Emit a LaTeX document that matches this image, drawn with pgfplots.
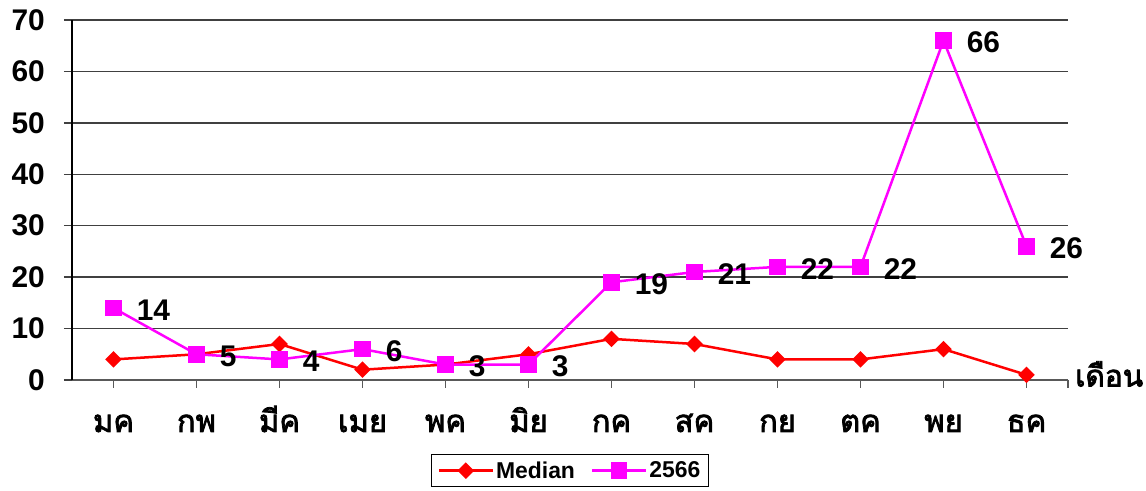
\documentclass[border=0pt]{standalone}
\usepackage{pgfplots}
\pgfplotsset{compat=1.18}
\usepackage{fontspec}
\setmainfont{Liberation Sans}
\newfontfamily\thaifont[Script=Thai, FakeBold=2.5]{Loma}
\definecolor{medred}{HTML}{FF0000}
\definecolor{mag}{HTML}{FF00FF}

\begin{document}
\begin{tikzpicture}
\begin{axis}[
  name=ax,
  scale only axis,
  width=996bp, height=360bp,
  xmin=-0.5, xmax=11.5, ymin=0, ymax=70,
  xtick={0,...,11},
  xticklabels={มค,กพ,มีค,เมย,พค,มิย,กค,สค,กย,ตค,พย,ธค},
  extra x ticks={11.5}, extra x tick labels={},
  ytick={0,10,...,70},
  axis x line=bottom, axis y line=left,
  axis line style={-},
  x axis line style={draw=black!65, line width=1.3bp},
  y axis line style={draw=black, line width=1.3bp},
  ymajorgrids,
  grid style={draw=black!75, line width=1.3bp},
  tick align=outside,
  ytick style={draw=black!75, line width=1.3bp},
  xtick style={draw=black!65, line width=1.3bp},
  major tick length=8bp,
  yticklabel style={font=\bfseries\fontsize{30}{30}\selectfont, anchor=east, inner sep=0pt, xshift=-19bp},
  xticklabel style={font=\thaifont\fontsize{31}{31}\selectfont, anchor=base, inner sep=0pt, yshift=-44bp},
  /pgf/number format/assume math mode=true,
  legend columns=2,
  legend style={at={(0.5,-0.206)}, anchor=north, draw=black, line width=1bp,
    font=\bfseries\fontsize{23}{23}\selectfont, inner xsep=6bp, inner ysep=5bp,
    /tikz/every even column/.append style={column sep=14bp}},
  legend image code/.code={\draw[mark repeat=2,mark phase=2] plot coordinates {(0bp,0bp)(27bp,0bp)(54bp,0bp)};},
  clip=false,
]
\addplot[medred, line width=2.5bp, mark=square*, mark size=4.6bp, mark options={rotate=45, solid}]
  coordinates {(0,4)(1,5)(2,7)(3,2)(4,3)(5,5)(6,8)(7,7)(8,4)(9,4)(10,6)(11,1)};
\addlegendentry{Median}
\addplot[mag, line width=2.5bp, mark=square*, mark size=7bp, mark options={solid},
  point meta=y, nodes near coords,
  nodes near coords style={anchor=west, inner sep=0pt, xshift=22bp, yshift=-2bp, text=black,
    font=\bfseries\fontsize{30}{30}\selectfont}]
  coordinates {(0,14)(1,5)(2,4)(3,6)(4,3)(5,3)(6,19)(7,21)(8,22)(9,22)(10,66)(11,26)};
\addlegendentry{2566}
\end{axis}
\node[anchor=west, inner sep=0pt, font=\thaifont\fontsize{30}{30}\selectfont]
  at ([xshift=7bp, yshift=6bp]ax.south east) {เดือน};
\pgfresetboundingbox
\path[use as bounding box] ([xshift=-72bp,yshift=-111bp]ax.south west) rectangle ([xshift=78bp,yshift=20bp]ax.north east);
\end{tikzpicture}
\end{document}
